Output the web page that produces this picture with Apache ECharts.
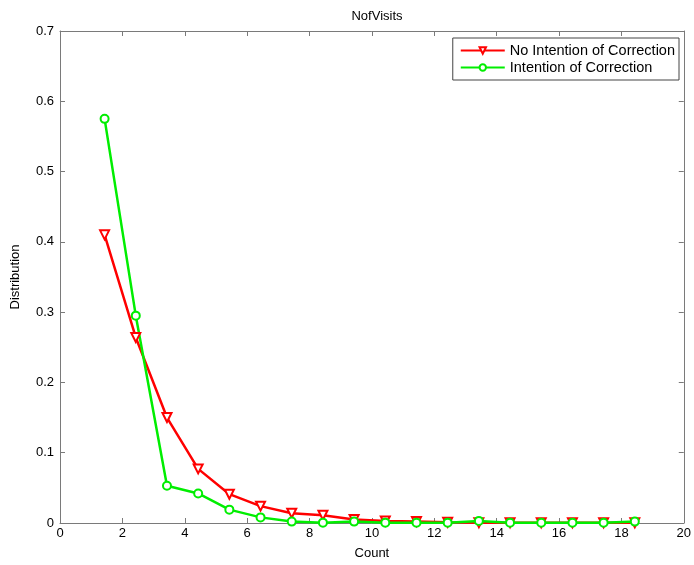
<!DOCTYPE html>
<html><head><meta charset="utf-8">
<script src="https://cdn.jsdelivr.net/npm/echarts@6/dist/echarts.min.js"></script>
<style>html,body{margin:0;padding:0;background:#fff}#c{width:694px;height:565px}</style>
</head><body><div id="c"></div>
<script>
var xValues = [1.43,2.43,3.43,4.43,5.43,6.43,7.43,8.43,9.43,10.43,11.43,12.43,13.43,14.43,15.43,16.43,17.43,18.43];
var noIntention = [0.410,0.264,0.150,0.077,0.041,0.024,0.014,0.011,0.005,0.003,0.002,0.001,0.0005,0.0005,0.0004,0.0003,0.0003,0.0003];
var intention = [0.575,0.295,0.053,0.042,0.019,0.008,0.002,0.0005,0.002,0.0005,0.0005,0.0005,0.003,0.0005,0.0003,0.0003,0.0003,0.002];
var seriesNames = ['No Intention of Correction','Intention of Correction'];
var titleText = 'NofVisits', xName = 'Count', yName = 'Distribution';

function pairs(ys){ return xValues.map(function(x,i){return [x, ys[i]];}); }
var font = 'Liberation Sans, Arial, sans-serif';
var axisCol = '#7a7a7a';
function axLine(){ return {show:true,onZero:false,lineStyle:{color:axisCol,width:1}}; }
function axTick(){ return {inside:true,length:5,lineStyle:{color:axisCol}}; }
var chart = echarts.init(document.getElementById('c'));
chart.setOption({
  animation:false,
  backgroundColor:'#fff',
  title:{text:titleText,left:372,top:5,textAlign:'center',textStyle:{fontFamily:font,fontSize:13,fontWeight:'normal',color:'#000'}},
  grid:{left:60,right:10,top:31,bottom:42},
  legend:{
    orient:'vertical', right:15, top:38, itemWidth:44, itemHeight:8, itemGap:2,
    padding:[5,4,5,7], borderColor:'#444', borderWidth:1, backgroundColor:'#fff',
    textStyle:{fontFamily:font,fontSize:14.5,color:'#000'},
    data:seriesNames
  },
  xAxis:[{
    type:'value', min:0, max:20, interval:2,
    name:xName, nameLocation:'middle', nameGap:24,
    nameTextStyle:{fontFamily:font,fontSize:13,color:'#000'},
    axisLine:axLine(), axisTick:axTick(),
    axisLabel:{fontFamily:font,fontSize:13,color:'#000',margin:4},
    splitLine:{show:false}
  },{
    type:'value', min:0, max:20, interval:2, position:'top',
    axisLine:axLine(), axisTick:axTick(),
    axisLabel:{show:false}, splitLine:{show:false}
  }],
  yAxis:[{
    type:'value', min:0, max:0.7, interval:0.1,
    name:yName, nameLocation:'middle', nameGap:38,
    nameTextStyle:{fontFamily:font,fontSize:13,color:'#000'},
    axisLine:axLine(), axisTick:axTick(),
    axisLabel:{fontFamily:font,fontSize:13,color:'#000',margin:6,formatter:function(v){return v===0?'0':String(+v.toFixed(1));}},
    splitLine:{show:false}
  },{
    type:'value', min:0, max:0.7, interval:0.1, position:'right',
    axisLine:axLine(), axisTick:axTick(),
    axisLabel:{show:false}, splitLine:{show:false}
  }],
  series:[{
    name:seriesNames[0], type:'line', data:pairs(noIntention),
    symbol:'triangle', symbolRotate:180, symbolSize:9, showAllSymbol:true,
    lineStyle:{color:'#ff0000',width:2.5},
    itemStyle:{color:'#ffffff',borderColor:'#ff0000',borderWidth:2}
  },{
    name:seriesNames[1], type:'line', data:pairs(intention),
    symbol:'circle', symbolSize:8, showAllSymbol:true,
    lineStyle:{color:'#00ee00',width:2.5},
    itemStyle:{color:'#ffffff',borderColor:'#00ee00',borderWidth:2}
  }]
});
</script></body></html>
